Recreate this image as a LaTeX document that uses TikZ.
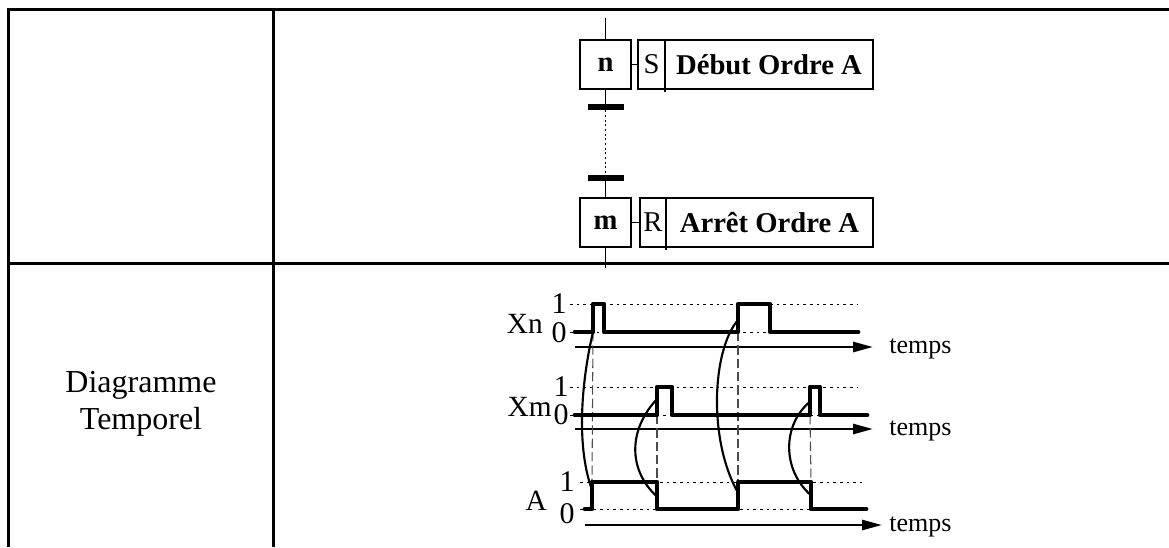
\documentclass[tikz,border=0pt]{standalone}
\usepackage{fontspec}
\setmainfont{Liberation Serif}
\usepackage{tikz}
\usetikzlibrary{positioning, arrows.meta}
\newcommand{\fsCell}{\fontsize{21.5}{24}\selectfont}
\newcommand{\fsSig}{\fontsize{22}{25}\selectfont}
\newcommand{\fsDigit}{\fontsize{22.5}{25}\selectfont}
\newcommand{\fsTime}{\fontsize{19.5}{22}\selectfont}
\newcommand{\fsHead}{\fontsize{24}{27.75}\selectfont}

\begin{document}
\begin{tikzpicture}[x=0.75pt, y=-0.75pt,
  rule/.style={line width=2.25pt},
  stepbox/.style={draw, line width=1.4pt, minimum width=38.25pt, minimum height=36.75pt,
    inner sep=0pt, outer sep=0pt, font=\fsCell\bfseries},
  actcell/.style={draw, line width=1.4pt, minimum height=36.75pt, inner sep=0pt,
    outer sep=0pt, font=\fsCell},
  trans/.style={fill, minimum width=27pt, minimum height=4.8pt, inner sep=0pt, outer sep=0pt},
  link/.style={line width=1.4pt},
  level/.style={line width=0.7pt, dash pattern=on 2pt off 3pt},
  guide/.style={line width=0.8pt, black!70, dash pattern=on 7pt off 3pt},
  sig/.style={line width=3.6pt, line cap=round, line join=round},
  axis/.style={line width=2pt, -{Triangle[length=15pt, width=7.5pt]}},
  cause/.style={line width=1.6pt},
  lbl/.style={font=\fsSig, inner sep=0pt}]
  \useasboundingbox (0,0) rectangle (1169,547);

  % table
  \draw[rule] (8,547) -- (8,9) -- (1169,9);
  \draw[rule] (273,9) -- (273,547);
  \draw[rule] (8,263) -- (1169,263);
  \node[font=\fsHead, align=center] (diag) at (141,404) {Diagramme\\Temporel};

  % grafcet: set at step n, reset at step m
  \coordinate (in) at (605.5,18);
  \coordinate (out) at (605.5,268);
  \node[stepbox] (n) at (605.5,64.5) {n};
  \node[actcell, minimum width=20.25pt, right=5.25pt of n] (setS) {S};
  \node[actcell, minimum width=156pt, right=0pt of setS, font=\fsCell\bfseries] (ordS) {Début Ordre A};
  \node[trans] (t1) at (605.5,107) {};
  \node[trans] (t2) at (605.5,178) {};
  \node[stepbox] (m) at (605.5,222.5) {m};
  \node[actcell, minimum width=19.5pt, right=6.75pt of m] (resR) {R};
  \node[actcell, minimum width=155.25pt, right=0pt of resR, font=\fsCell\bfseries] (ordR) {Arrêt Ordre A};
  \draw[link] (in) -- (n);
  \draw[link] (n) -- (t1);
  \draw[line width=0.7pt, dash pattern=on 1.5pt off 2pt] (t1) -- (t2);
  \draw[link] (t2) -- (m);
  \draw[link] (m) -- (out);
  \draw[link] (n) -- (setS);
  \draw[link] (m) -- (resR);
  \draw[line width=1.4pt] (setS.south east) -- ++(0,3);
  \draw[line width=1.4pt] (resR.south east) -- ++(0,3);

  % chronogram: levels, time axes, labels
  \foreach \nm/\txt/\yh/\yl/\yz/\ya/\xs/\xf/\xe/\xl/\xd in
    {xn/Xn/304/332/333/347/570/857/873/543/559,
     xm/Xm/387/415/415/429/570/857/873/552/561,
     a/A/482/509/514/525/580/862/882/547/567}{
    \draw[level] (\xs,\yh) -- (\xf,\yh);
    \draw[level] (\xs,\yl) -- (\xf,\yl);
    \draw[axis] (\xs+5,\ya) -- (\xe,\ya);
    \node[font=\fsTime, anchor=base west, inner sep=0pt] (tps\nm) at (889,\ya+6) {temps};
    \node[lbl, anchor=base east] (lab\nm) at (\xl,\yl+1) {\txt};
    \node[lbl, font=\fsDigit] (one\nm) at (\xd,\yh) {1};
    \node[lbl, font=\fsDigit] (zero\nm) at (\xd,\yz) {0};
  }

  \coordinate (xnUp1) at (593,332);
  \coordinate (xnUp2) at (738,332);
  \coordinate (xmUp1) at (657,415);
  \coordinate (xmUp2) at (810,415);
  \coordinate (aUp1) at (592,482);
  \coordinate (aDn1) at (657,482);
  \coordinate (aUp2) at (738,482);
  \coordinate (aDn2) at (811,482);
  \draw[guide] (xnUp1) -- (aUp1);
  \draw[guide] (xnUp2) -- (aUp2);
  \draw[guide] (xmUp1) -- (aDn1);
  \draw[guide] (xmUp2) -- (aDn2);

  \draw[sig] (575,332) -- (xnUp1) -- (593,304) -- (604,304) -- (604,332) -- (xnUp2)
    -- (738,304) -- (770,304) -- (770,332) -- (858,332);
  \draw[sig] (575,415) -- (xmUp1) -- (657,387) -- (672,387) -- (672,415) -- (xmUp2)
    -- (810,387) -- (820,387) -- (820,415) -- (867,415);
  \draw[sig] (585,509) -- (592,509) -- (aUp1) -- (aDn1) -- (657,509) -- (738,509)
    -- (aUp2) -- (aDn2) -- (811,509) -- (866,509);

  % cause and effect
  \draw[cause] (xnUp1) .. controls (584,370) and (574,440) .. ([yshift=-6pt]aUp1);
  \draw[cause] ([yshift=9pt]xnUp2) .. controls (712,350) and (708,440) .. ([yshift=-8pt]aUp2);
  \draw[cause] ([yshift=12pt]xmUp1) .. controls (628,430) and (628,470) .. ([yshift=-11pt]aDn1);
  \draw[cause] ([yshift=10pt]xmUp2) .. controls (782,425) and (782,470) .. ([yshift=-10pt]aDn2);
\end{tikzpicture}
\end{document}
